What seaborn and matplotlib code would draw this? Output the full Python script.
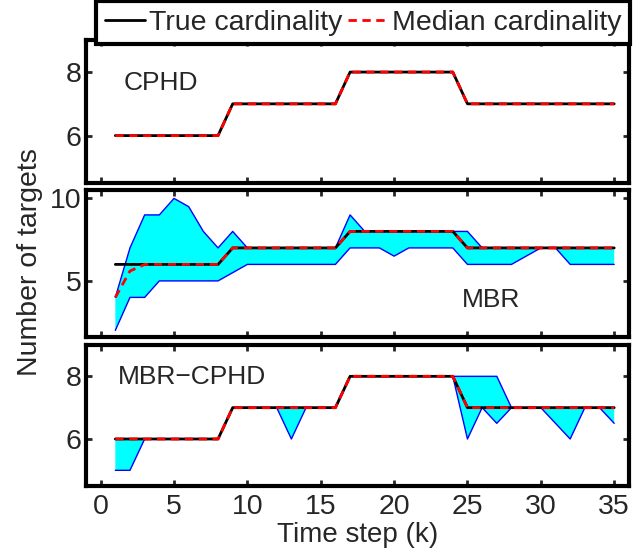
import numpy as np
import pandas as pd
import matplotlib
matplotlib.use("Agg")
import matplotlib.pyplot as plt
import seaborn as sns

# time steps
k = [1, 2, 3, 4, 5, 6, 7, 8, 9, 10, 11, 12, 13, 14, 15, 16, 17, 18,
     19, 20, 21, 22, 23, 24, 25, 26, 27, 28, 29, 30, 31, 32, 33, 34, 35]

# true cardinality (same for all three filters)
true_card = [6, 6, 6, 6, 6, 6, 6, 6, 7, 7, 7, 7, 7, 7, 7, 7, 8, 8,
             8, 8, 8, 8, 8, 8, 7, 7, 7, 7, 7, 7, 7, 7, 7, 7, 7]

# CPHD median
cphd_median = [6, 6, 6, 6, 6, 6, 6, 6, 7, 7, 7, 7, 7, 7, 7, 7, 8, 8,
               8, 8, 8, 8, 8, 8, 7, 7, 7, 7, 7, 7, 7, 7, 7, 7, 7]

# MBR median + band
mbr_median = [4, 5.6, 6, 6, 6, 6, 6, 6, 7, 7, 7, 7, 7, 7, 7, 7, 8, 8,
              8, 8, 8, 8, 8, 8, 7, 7, 7, 7, 7, 7, 7, 7, 7, 7, 7]
mbr_upper = [4, 7, 9, 9, 10, 9.5, 8, 7, 8, 7, 7, 7, 7, 7, 7, 7, 9, 8,
             8, 8, 8, 8, 8, 8, 8, 7, 7, 7, 7, 7, 7, 7, 7, 7, 7]
mbr_lower = [2, 4, 4, 5, 5, 5, 5, 5, 5.5, 6, 6, 6, 6, 6, 6, 6, 7, 7,
             7, 6.5, 7, 7, 7, 7, 6, 6, 6, 6, 6.5, 7, 7, 6, 6, 6, 6]

# MBR-CPHD median + band
mc_median = [6, 6, 6, 6, 6, 6, 6, 6, 7, 7, 7, 7, 7, 7, 7, 7, 8, 8,
             8, 8, 8, 8, 8, 8, 7, 7, 7, 7, 7, 7, 7, 7, 7, 7, 7]
mc_upper = [6, 6, 6, 6, 6, 6, 6, 6, 7, 7, 7, 7, 7, 7, 7, 7, 8, 8,
            8, 8, 8, 8, 8, 8, 8, 8, 8, 7, 7, 7, 7, 7, 7, 7, 7]
mc_lower = [5, 5, 6, 6, 6, 6, 6, 6, 7, 7, 7, 7, 6, 7, 7, 7, 8, 8,
            8, 8, 8, 8, 8, 8, 6, 7, 6.5, 7, 7, 7, 6.5, 6, 7, 7, 6.5]

panel_names = ["CPHD", "MBR", "MBR\u2212CPHD"]
ylims = [(4.5, 9), (1.6, 10.5), (4.5, 9)]
yticks = [[6, 8], [5, 10], [6, 8]]

sns.set_theme(style="white")
plt.rcParams["font.family"] = ["Liberation Sans", "DejaVu Sans"]

fig = plt.figure(figsize=(6.44, 5.52), dpi=100)
ax1 = fig.add_axes([0.1335, 0.668, 0.843, 0.259])
ax2 = fig.add_axes([0.1335, 0.3895, 0.843, 0.266])
ax3 = fig.add_axes([0.1335, 0.1196, 0.843, 0.2554])
axes = [ax1, ax2, ax3]

bands = [None, (mbr_lower, mbr_upper), (mc_lower, mc_upper)]
medians = [cphd_median, mbr_median, mc_median]

for i, ax in enumerate(axes):
    if bands[i] is not None:
        lo, up = bands[i]
        ax.fill_between(k, lo, up, facecolor="cyan", edgecolor="none")
        sns.lineplot(x=k, y=up, ax=ax, color="blue", linewidth=1)
        sns.lineplot(x=k, y=lo, ax=ax, color="blue", linewidth=1)
    sns.lineplot(x=k, y=true_card, ax=ax, color="black", linewidth=2,
                 label="True cardinality")
    sns.lineplot(x=k, y=medians[i], ax=ax, color="red", linewidth=2,
                 linestyle=(0, (3, 2)), label="Median cardinality")
    ax.get_legend().remove()
    ax.set_xlim(-1, 36)
    ax.set_ylim(*ylims[i])
    ax.set_yticks(yticks[i])
    ax.set_xticks([0, 5, 10, 15, 20, 25, 30, 35])
    ax.tick_params(direction="in", length=4, width=2, top=True, right=True,
                   labelsize=20.5, pad=3, bottom=True, left=True)
    ax.tick_params(axis="x", pad=6)
    for s in ax.spines.values():
        s.set_linewidth(3)
        s.set_color("black")
    if i < 2:
        ax.tick_params(labelbottom=False)

ax1.text(1.6, 7.66, panel_names[0], fontsize=19, va="center", ha="left")
ax2.text(26.6, 3.86, panel_names[1], fontsize=19, va="center", ha="center")
ax3.text(1.2, 7.97, panel_names[2], fontsize=19, va="center", ha="left")

ax3.set_xlabel("Time step (k)", fontsize=20, labelpad=1)
fig.text(0.046, 0.525, "Number of targets", rotation=90, fontsize=20.5,
         ha="center", va="center")

handles, labels = ax1.get_legend_handles_labels()
leg = fig.legend(handles, labels, loc="upper right", bbox_to_anchor=(0.983, 1.003),
                 ncol=2, fontsize=20.5, handlelength=1.4, handletextpad=0.15,
                 columnspacing=0.2, borderpad=0.3, borderaxespad=0.1,
                 fancybox=False, framealpha=1, edgecolor="black")
leg.get_frame().set_linewidth(3)

fig.savefig("out.png", dpi=100)
